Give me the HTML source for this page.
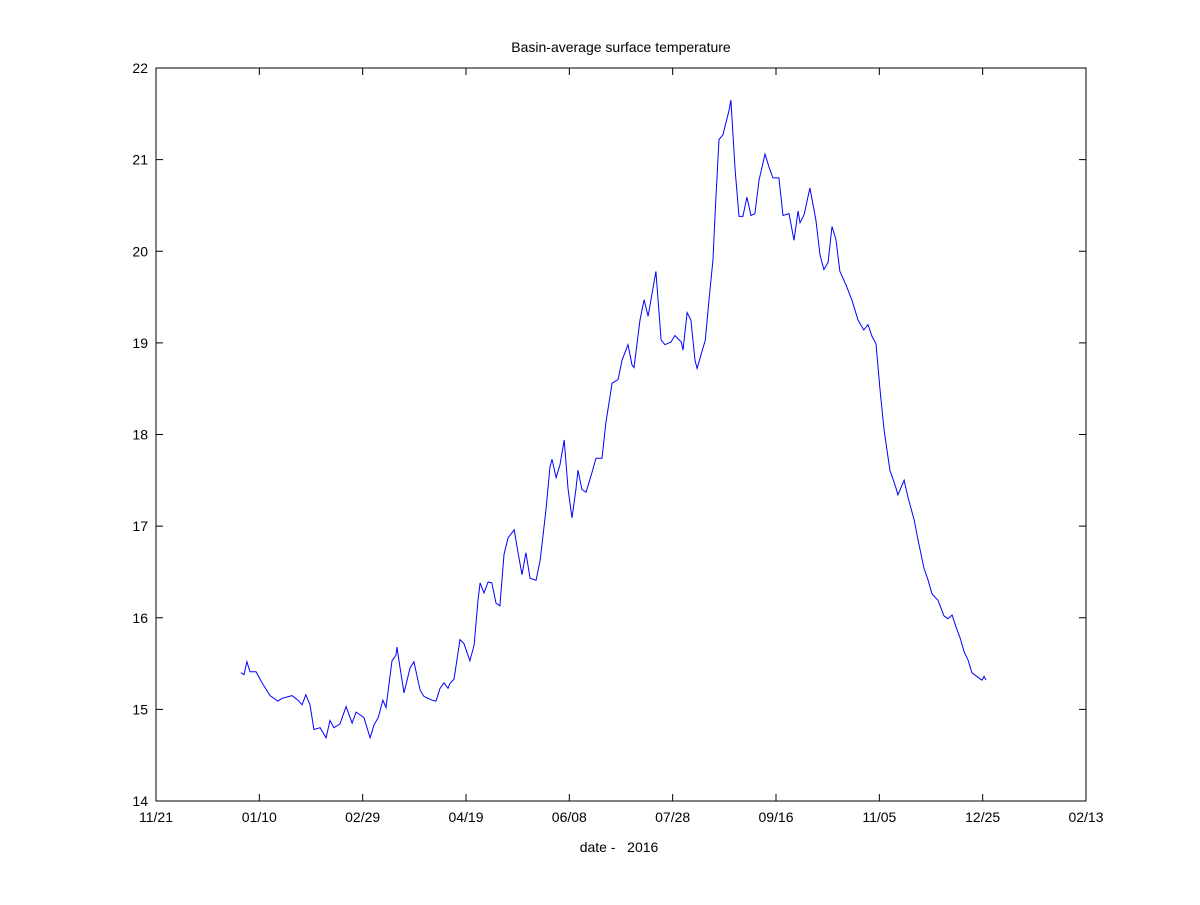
<!DOCTYPE html>
<html><head><meta charset="utf-8"><style>
body{margin:0;background:#fff;}
svg text{font-family:"Liberation Sans",sans-serif;font-size:14px;fill:#000;}
</style></head><body>
<svg id="chart" width="1200" height="900">
<rect x="0" y="0" width="1200" height="900" fill="#fff"/>
<text x="621" y="52" text-anchor="middle">Basin-average surface temperature</text>
<text x="619" y="852" text-anchor="middle" xml:space="preserve">date -   2016</text>
<rect x="156" y="68" width="930" height="733" fill="none" stroke="#000" stroke-width="1"/>
<g id="axes"></g>
<path id="line" fill="none" stroke="#0000ff" stroke-width="1"/>
</svg>
<script>
// days since 2015-11-21
const days=[41.1,42.6,44.0,45.5,48.4,51.3,55.2,59.0,60.9,65.8,68.7,70.7,72.5,74.5,76.4,79.4,82.3,84.2,86.1,89.0,92.0,94.9,96.8,100.6,103.6,105.5,107.5,109.8,111.3,114.2,116.1,116.6,118.1,120.0,122.9,124.8,127.8,129.7,133.6,135.5,137.4,139.3,141.3,142.2,144.2,147.1,149.0,151.9,153.9,155.8,156.8,158.7,160.7,162.5,164.5,166.4,168.4,170.3,173.3,175.1,177.1,179.0,181.0,183.9,185.9,188.7,190.6,191.6,193.6,195.5,197.5,199.4,201.3,203.2,204.2,206.1,208.1,211.0,212.9,215.8,217.7,220.7,223.6,225.5,228.4,230.3,231.3,234.2,236.2,238.1,241.9,244.4,246.3,249.2,251.1,254.2,255.0,257.0,258.8,260.8,261.8,263.7,265.8,267.6,269.5,270.5,272.4,274.3,277.3,278.2,280.2,282.1,284.0,285.9,287.9,289.8,291.8,294.7,296.6,298.5,301.4,303.4,306.3,308.7,310.7,311.6,313.6,316.4,319.3,321.3,323.2,325.2,327.1,329.0,330.9,333.9,336.8,339.7,342.5,344.5,346.5,348.4,350.3,352.3,355.1,358.0,359.0,362.0,363.9,366.8,368.7,371.6,373.6,375.5,378.4,381.3,383.2,385.2,387.1,389.1,391.0,392.9,394.8,397.7,399.7,400.7,401.6];
const temps=[15.40,15.38,15.52,15.41,15.41,15.29,15.15,15.09,15.12,15.15,15.10,15.05,15.16,15.05,14.78,14.80,14.69,14.88,14.80,14.84,15.03,14.85,14.97,14.91,14.69,14.83,14.91,15.10,15.02,15.53,15.59,15.68,15.45,15.18,15.45,15.52,15.21,15.14,15.10,15.09,15.23,15.29,15.23,15.28,15.33,15.76,15.72,15.53,15.70,16.19,16.38,16.27,16.39,16.38,16.16,16.13,16.69,16.87,16.96,16.72,16.47,16.71,16.43,16.41,16.63,17.18,17.64,17.73,17.53,17.67,17.94,17.40,17.09,17.40,17.61,17.40,17.37,17.59,17.74,17.74,18.13,18.56,18.60,18.81,18.98,18.76,18.73,19.25,19.47,19.29,19.78,19.03,18.98,19.01,19.08,19.01,18.92,19.33,19.25,18.81,18.72,18.87,19.03,19.47,19.91,20.39,21.22,21.27,21.54,21.65,20.89,20.38,20.38,20.59,20.39,20.41,20.78,21.06,20.92,20.80,20.80,20.39,20.41,20.12,20.44,20.31,20.40,20.69,20.34,19.96,19.80,19.88,20.27,20.13,19.78,19.63,19.46,19.25,19.14,19.20,19.07,18.99,18.49,18.05,17.61,17.42,17.34,17.50,17.31,17.07,16.85,16.54,16.41,16.26,16.19,16.02,15.99,16.03,15.90,15.78,15.63,15.54,15.40,15.35,15.32,15.36,15.32];
const xTickLabels=["11/21","01/10","02/29","04/19","06/08","07/28","09/16","11/05","12/25","02/13"];
const yTickLabels=["14","15","16","17","18","19","20","21","22"];
const X0=156,X1=1086,Y0=801,Y1=68;
const xs=d=>X0+d*(X1-X0)/450;
const ys=v=>Y0-(v-14)*(Y0-Y1)/8;
const ns="http://www.w3.org/2000/svg";
const g=document.getElementById('axes');
function mk(t,a){const e=document.createElementNS(ns,t);for(const k in a)e.setAttribute(k,a[k]);return e;}
xTickLabels.forEach((l,i)=>{const x=xs(i*50);
 [[Y0,Y0-7],[Y1,Y1+7]].forEach(p=>{const t=mk('line',{x1:x,x2:x,y1:p[0],y2:p[1],stroke:'#000'});
 
 g.appendChild(t);});
 const tx=mk('text',{x:x,y:822,'text-anchor':'middle'});tx.textContent=l;
 
 g.appendChild(tx);});
yTickLabels.forEach((l,i)=>{const y=ys(+l);
 [[X0,X0+7],[X1,X1-7]].forEach(p=>{const t=mk('line',{x1:p[0],x2:p[1],y1:y,y2:y,stroke:'#000'});
 
 g.appendChild(t);});
 const tx=mk('text',{x:148,y:y+5,'text-anchor':'end'});tx.textContent=l;
 
 g.appendChild(tx);});
document.getElementById('line').setAttribute('d',days.map((d,i)=>(i?'L':'M')+xs(d).toFixed(1)+','+ys(temps[i]).toFixed(1)).join(''));
</script>
</body></html>
